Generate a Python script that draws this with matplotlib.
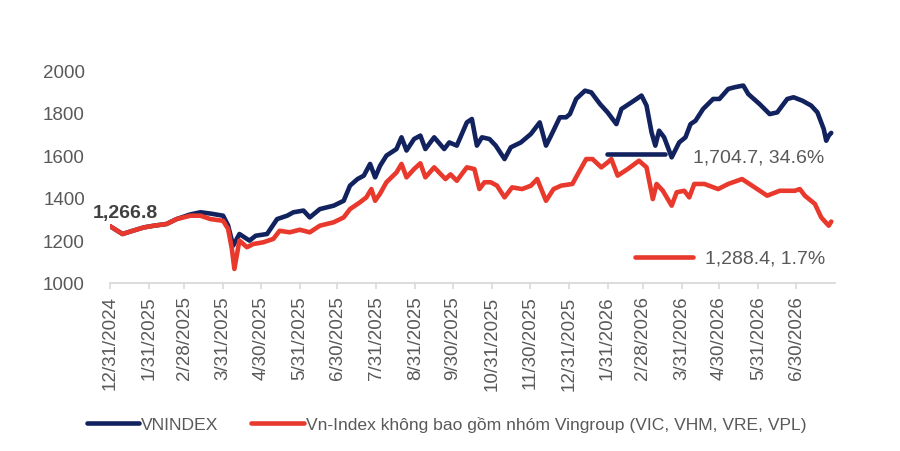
import pandas as pd
import matplotlib.pyplot as plt
import matplotlib.ticker as mticker
import matplotlib.dates as mdates

plt.rcParams['font.family'] = ['Liberation Sans', 'DejaVu Sans']

# VNINDEX (doc tu hinh)
vn_dates = ['2024-12-31', '2025-01-10', '2025-01-18', '2025-01-27', '2025-02-04', '2025-02-14',
            '2025-02-22', '2025-03-05', '2025-03-13', '2025-03-21', '2025-03-31', '2025-04-04',
            '2025-04-08', '2025-04-13', '2025-04-21', '2025-04-26', '2025-05-05', '2025-05-13',
            '2025-05-21', '2025-05-26', '2025-06-03', '2025-06-08', '2025-06-16', '2025-06-27',
            '2025-07-05', '2025-07-10', '2025-07-16', '2025-07-21', '2025-07-26', '2025-07-30',
            '2025-08-03', '2025-08-08', '2025-08-16', '2025-08-20', '2025-08-24', '2025-08-30',
            '2025-09-04', '2025-09-08', '2025-09-15', '2025-09-23', '2025-09-27', '2025-10-03',
            '2025-10-11', '2025-10-15', '2025-10-19', '2025-10-23', '2025-10-29', '2025-11-03',
            '2025-11-10', '2025-11-15', '2025-11-23', '2025-12-01', '2025-12-08', '2025-12-13',
            '2025-12-17', '2025-12-24', '2025-12-29', '2026-01-01', '2026-01-06', '2026-01-13',
            '2026-01-18', '2026-01-25', '2026-01-31', '2026-02-07', '2026-02-11', '2026-02-19',
            '2026-02-27', '2026-03-03', '2026-03-07', '2026-03-10', '2026-03-13', '2026-03-17',
            '2026-03-23', '2026-03-29', '2026-04-03', '2026-04-07', '2026-04-11', '2026-04-17',
            '2026-04-25', '2026-04-30', '2026-05-07', '2026-05-12', '2026-05-19', '2026-05-23',
            '2026-06-01', '2026-06-09', '2026-06-15', '2026-06-23', '2026-06-28', '2026-07-05',
            '2026-07-12', '2026-07-17', '2026-07-22', '2026-07-24', '2026-07-26', '2026-07-28']
vn_values = [1266.8, 1230, 1245, 1261, 1269, 1277,
             1300, 1322, 1332, 1326, 1316, 1270,
             1175, 1230, 1199, 1222, 1230, 1300,
             1316, 1332, 1340, 1308, 1347, 1363,
             1386, 1457, 1488, 1504, 1559, 1496,
             1551, 1598, 1629, 1684, 1622, 1676,
             1692, 1629, 1684, 1629, 1660, 1645,
             1754, 1770, 1645, 1684, 1676, 1645,
             1582, 1637, 1660, 1700, 1754, 1645,
             1692, 1778, 1778, 1793, 1864, 1903,
             1895, 1840, 1801, 1746, 1817, 1848,
             1880, 1833, 1707, 1645, 1715, 1684,
             1590, 1660, 1684, 1746, 1762, 1817,
             1864, 1864, 1911, 1919, 1927, 1887,
             1840, 1793, 1801, 1864, 1872, 1856,
             1833, 1801, 1723, 1668, 1692, 1704.7]

# Vn-Index khong gom nhom Vingroup
ex_dates = ['2024-12-31', '2025-01-10', '2025-01-18', '2025-01-27', '2025-02-04', '2025-02-14',
            '2025-02-22', '2025-03-05', '2025-03-13', '2025-03-21', '2025-03-31', '2025-04-04',
            '2025-04-07', '2025-04-09', '2025-04-13', '2025-04-19', '2025-04-24', '2025-05-02',
            '2025-05-10', '2025-05-15', '2025-05-23', '2025-05-31', '2025-06-08', '2025-06-16',
            '2025-06-27', '2025-07-05', '2025-07-10', '2025-07-18', '2025-07-23', '2025-07-27',
            '2025-07-30', '2025-08-03', '2025-08-08', '2025-08-16', '2025-08-20', '2025-08-24',
            '2025-08-30', '2025-09-04', '2025-09-08', '2025-09-15', '2025-09-24', '2025-09-28',
            '2025-10-03', '2025-10-11', '2025-10-17', '2025-10-21', '2025-10-25', '2025-10-30',
            '2025-11-04', '2025-11-10', '2025-11-16', '2025-11-24', '2025-12-01', '2025-12-06',
            '2025-12-13', '2025-12-19', '2025-12-25', '2026-01-03', '2026-01-08', '2026-01-14',
            '2026-01-19', '2026-01-26', '2026-01-31', '2026-02-03', '2026-02-08', '2026-02-16',
            '2026-02-25', '2026-03-03', '2026-03-08', '2026-03-11', '2026-03-16', '2026-03-23',
            '2026-03-27', '2026-04-02', '2026-04-06', '2026-04-10', '2026-04-18', '2026-04-29',
            '2026-05-07', '2026-05-18', '2026-05-26', '2026-06-07', '2026-06-17', '2026-06-29',
            '2026-07-03', '2026-07-07', '2026-07-15', '2026-07-20', '2026-07-26', '2026-07-28']
ex_values = [1266.8, 1230, 1245, 1261, 1269, 1277,
             1300, 1316, 1316, 1300, 1292, 1254,
             1160, 1066, 1199, 1168, 1183, 1191,
             1207, 1245, 1238, 1250, 1238, 1269,
             1285, 1308, 1347, 1379, 1402, 1441,
             1386, 1420, 1473, 1519, 1559, 1496,
             1535, 1562, 1496, 1543, 1488, 1510,
             1480, 1543, 1535, 1441, 1473, 1473,
             1457, 1402, 1449, 1441, 1457, 1488,
             1386, 1441, 1457, 1465, 1519, 1582,
             1582, 1543, 1566, 1582, 1504, 1535,
             1574, 1543, 1394, 1465, 1433, 1363,
             1426, 1433, 1402, 1465, 1465, 1441,
             1465, 1488, 1457, 1410, 1433, 1433,
             1441, 1410, 1371, 1308, 1269, 1288.4]

tick_dates = pd.date_range('2024-12-31', '2026-06-30', freq='ME')
y_ticks = [1000, 1200, 1400, 1600, 1800, 2000]

navy = '#11225f'
red = '#e8392c'
grey = '#595959'

fig = plt.figure(figsize=(9, 4.52), dpi=100)
ax = fig.add_axes([0.1222, 0.3717, 0.8056, 0.4712])

ax.plot(pd.to_datetime(vn_dates), vn_values, color=navy, lw=3.3, label='VNINDEX',
        solid_joinstyle='round', solid_capstyle='round')
ax.plot(pd.to_datetime(ex_dates), ex_values, color=red, lw=3.3,
        label='Vn-Index không bao gồm nhóm Vingroup (VIC, VHM, VRE, VPL)',
        solid_joinstyle='round', solid_capstyle='round')

ax.set_ylim(1000, 2000)
ax.set_xlim(pd.Timestamp('2024-12-31'), pd.Timestamp('2026-07-31'))
ax.set_yticks(y_ticks)
ax.set_xticks(tick_dates)
ax.xaxis.set_major_formatter(mticker.FuncFormatter(
    lambda v, p: (lambda d: f'{d.month}/{d.day}/{d.year}')(mdates.num2date(v))))

for s in ['top', 'right', 'left']:
    ax.spines[s].set_visible(False)
ax.spines['bottom'].set_color('#d9d9d9')
ax.spines['bottom'].set_linewidth(1.3)
ax.tick_params(axis='y', length=0, pad=18, labelsize=13.5, labelcolor=grey)
ax.tick_params(axis='x', length=4, width=1.2, color='#d9d9d9', pad=5,
               labelsize=13.5, labelcolor=grey, labelrotation=90)

# nhan du lieu
ax.text(0.021, 0.333, '1,266.8', transform=ax.transAxes, ha='center', va='center',
        fontsize=14, fontweight='bold', color='#404040')
ax.plot([0.686, 0.766], [0.606, 0.606], transform=ax.transAxes, color=navy, lw=3.3,
        solid_capstyle='round', clip_on=False)
ax.text(0.804, 0.592, '1,704.7, 34.6%', transform=ax.transAxes, ha='left', va='center',
        fontsize=14, color=grey)
ax.plot([0.724, 0.804], [0.122, 0.122], transform=ax.transAxes, color=red, lw=3.3,
        solid_capstyle='round', clip_on=False)
ax.text(0.821, 0.117, '1,288.4, 1.7%', transform=ax.transAxes, ha='left', va='center',
        fontsize=14, color=grey)

fig.legend(loc='center', bbox_to_anchor=(0.496, 0.06), ncol=2, frameon=False,
           fontsize=12.6, handlelength=3.0, handletextpad=0.1, columnspacing=1.9,
           labelcolor=grey)

plt.savefig('out.png', dpi=100)
